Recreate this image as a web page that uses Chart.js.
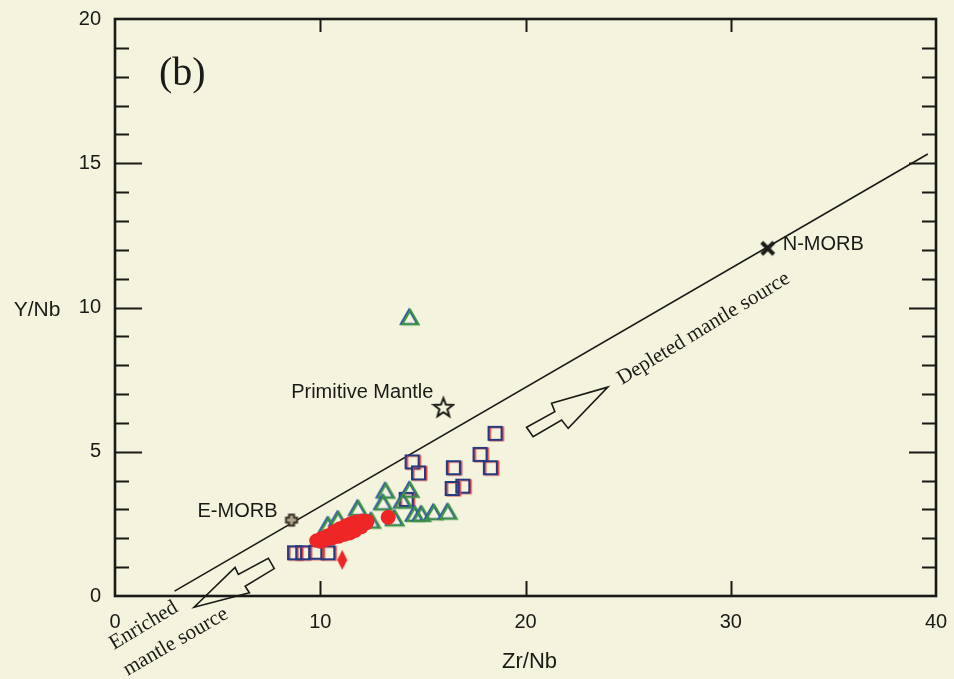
<!DOCTYPE html>
<html>
<head>
<meta charset="utf-8">
<script src="https://cdn.jsdelivr.net/npm/chart.js@4.4.1/dist/chart.umd.min.js"></script>
<style>
  html, body { margin: 0; padding: 0; background: #f4f3de; }
  #wrap { width: 954px; height: 679px; }
</style>
</head>
<body>
<div id="wrap"><canvas id="c" width="954" height="679"></canvas></div>
<script>
// ---- Zr/Nb vs Y/Nb data ----
// Open squares
const sqZrNb = [18.54, 17.81, 18.31, 16.51, 16.97, 16.45, 14.50, 14.81, 14.21, 8.77, 9.17, 9.82, 10.39];
const sqYNb  = [5.62, 4.89, 4.43, 4.43, 3.79, 3.71, 4.63, 4.25, 3.33, 1.48, 1.48, 1.50, 1.48];
// Open triangles
const triZrNb = [13.19, 14.37, 13.07, 14.04, 11.85, 14.61, 14.94, 15.54, 16.23, 13.64, 12.50, 10.88, 10.39, 14.37];
const triYNb  = [3.62, 3.65, 3.21, 3.27, 3.01, 2.81, 2.81, 2.87, 2.89, 2.66, 2.58, 2.63, 2.43, 9.63];
// Filled circles (main group)
const dotZrNb = [9.8, 10.0, 10.05, 10.3, 10.35, 10.6, 10.6, 10.65, 10.9, 10.9, 10.95, 11.2, 11.2, 11.25,
                 11.45, 11.45, 11.5, 11.7, 11.7, 11.75, 12.0, 12.0, 12.05, 12.25, 12.3, 10.45, 10.75, 11.05, 11.35, 11.6, 11.9];
const dotYNb  = [1.92, 1.88, 2.0, 1.95, 2.1, 2.0, 2.12, 2.24, 2.05, 2.2, 2.35, 2.12, 2.28, 2.45,
                 2.17, 2.35, 2.53, 2.25, 2.42, 2.58, 2.38, 2.52, 2.62, 2.52, 2.6, 2.02, 2.15, 2.3, 2.38, 2.48, 2.45];
// Single larger filled circle
const bigDotZrNb = [13.31];
const bigDotYNb  = [2.73];
// Filled diamond
const diaZrNb = [11.07];
const diaYNb  = [1.25];
// Reference compositions
const refNames = ['N-MORB', 'E-MORB', 'Primitive Mantle'];
const refZrNb  = [31.8, 8.6, 16.0];
const refYNb   = [12.05, 2.63, 6.55];
// Mantle array line
const lineZrNb = [2.9, 39.6];
const lineYNb  = [0.17, 15.32];
// Axis ticks
const xTicks = [0, 10, 20, 30, 40];
const yTicks = [0, 5, 10, 15, 20];

const pts = (xs, ys) => xs.map((x, i) => ({ x: x, y: ys[i] }));

// ---- Symbol images ----
function canvasOf(w, h, draw) {
  const c = document.createElement('canvas');
  c.width = w; c.height = h;
  draw(c.getContext('2d'), w, h);
  return c;
}
const squareImg = canvasOf(20, 20, (g) => {
  g.lineWidth = 2;
  g.strokeStyle = '#d94848';
  g.strokeRect(4.5, 3.5, 13, 13);
  g.strokeStyle = '#27397f';
  g.strokeRect(3, 3, 13, 13);
});
function triPath(g, cx, cy, r) {
  g.beginPath();
  for (let k = 0; k < 3; k++) {
    const a = -Math.PI / 2 + k * 2 * Math.PI / 3;
    const px = cx + r * Math.cos(a), py = cy + r * Math.sin(a);
    if (k === 0) g.moveTo(px, py); else g.lineTo(px, py);
  }
  g.closePath();
}
const triImg = canvasOf(24, 22, (g) => {
  g.lineWidth = 2;
  g.strokeStyle = '#2f55a8';
  triPath(g, 11, 12, 9.5);
  g.stroke();
  g.strokeStyle = '#3f9440';
  triPath(g, 12.5, 12.5, 9.5);
  g.stroke();
});
const diamondImg = canvasOf(12, 22, (g) => {
  g.fillStyle = '#ee2626';
  g.beginPath();
  g.moveTo(6, 1); g.lineTo(11, 11); g.lineTo(6, 21); g.lineTo(1, 11);
  g.closePath(); g.fill();
});
const starImg = canvasOf(24, 24, (g) => {
  g.beginPath();
  for (let k = 0; k < 10; k++) {
    const r = k % 2 === 0 ? 10 : 4.2;
    const a = -Math.PI / 2 + k * Math.PI / 5;
    const px = 12 + r * Math.cos(a), py = 13 + r * Math.sin(a);
    if (k === 0) g.moveTo(px, py); else g.lineTo(px, py);
  }
  g.closePath();
  g.fillStyle = '#f4f3de'; g.fill();
  g.lineWidth = 2; g.strokeStyle = '#1c1a16'; g.stroke();
});
const plusImg = canvasOf(18, 18, (g) => {
  const a = 5.5, b = 2.5, c = 9;
  g.beginPath();
  g.moveTo(c - b, c - a); g.lineTo(c + b, c - a); g.lineTo(c + b, c - b); g.lineTo(c + a, c - b);
  g.lineTo(c + a, c + b); g.lineTo(c + b, c + b); g.lineTo(c + b, c + a); g.lineTo(c - b, c + a);
  g.lineTo(c - b, c + b); g.lineTo(c - a, c + b); g.lineTo(c - a, c - b); g.lineTo(c - b, c - b);
  g.closePath();
  g.fillStyle = '#b3a58c'; g.fill();
  g.lineWidth = 2; g.strokeStyle = '#3a3026'; g.stroke();
});
const crossImg = canvasOf(18, 18, (g) => {
  g.lineWidth = 4; g.lineCap = 'butt'; g.strokeStyle = '#1e1c1a';
  g.beginPath();
  g.moveTo(3, 3); g.lineTo(15, 15);
  g.moveTo(15, 3); g.lineTo(3, 15);
  g.stroke();
});

// ---- Annotation shapes (in Zr/Nb, Y/Nb units) ----
const depletedArrow = [[24.01, 7.24], [21.27, 6.68], [21.43, 6.39], [20.05, 5.85], [20.37, 5.52], [21.76, 6.10], [22.08, 5.81]];
const enrichedArrow = [[3.85, -0.39], [5.85, 0.99], [6.01, 0.75], [7.47, 1.31], [7.76, 0.95], [6.34, 0.34], [6.55, 0.11]];

const INK = '#1c1a16';
const SANS = '"Liberation Sans", Arial, sans-serif';
const SERIF = '"Liberation Serif", "Times New Roman", serif';

const decor = {
  id: 'decor',
  afterDatasetsDraw(chart) {
    const { ctx, chartArea: a, scales: { x, y } } = chart;
    ctx.save();
    // inward tick marks
    ctx.strokeStyle = INK;
    ctx.lineWidth = 2;
    ctx.beginPath();
    for (let v = 1; v < 20; v++) {
      const py = Math.round(y.getPixelForValue(v)) + 0.5;
      const len = v % 5 === 0 ? 27 : 14;
      ctx.moveTo(a.left, py); ctx.lineTo(a.left + len, py);
      ctx.moveTo(a.right, py); ctx.lineTo(a.right - len, py);
    }
    xTicks.slice(1, -1).forEach(v => {
      const px = Math.round(x.getPixelForValue(v)) + 0.5;
      ctx.moveTo(px, a.bottom); ctx.lineTo(px, a.bottom - 15);
      ctx.moveTo(px, a.top); ctx.lineTo(px, a.top + 13);
    });
    ctx.stroke();
    // frame
    ctx.lineWidth = 2.6;
    ctx.strokeRect(a.left, a.top, a.right - a.left, a.bottom - a.top);

    // arrows
    const drawArrow = (poly) => {
      ctx.beginPath();
      poly.forEach((p, i) => {
        const px = x.getPixelForValue(p[0]), py = y.getPixelForValue(p[1]);
        if (i === 0) ctx.moveTo(px, py); else ctx.lineTo(px, py);
      });
      ctx.closePath();
      ctx.lineWidth = 1.6;
      ctx.strokeStyle = INK;
      ctx.stroke();
    };
    drawArrow(depletedArrow);
    drawArrow(enrichedArrow);

    ctx.fillStyle = INK;
    // reference labels
    const refOffsets = [[15, 2, 'left'], [-14, -3, 'right'], [-10, -9, 'right']];
    ctx.font = '20px ' + SANS;
    ctx.textBaseline = 'alphabetic';
    refNames.forEach((n, i) => {
      const px = x.getPixelForValue(refZrNb[i]), py = y.getPixelForValue(refYNb[i]);
      ctx.textAlign = refOffsets[i][2];
      ctx.fillText(n, px + refOffsets[i][0], py + refOffsets[i][1]);
    });

    // rotated source labels
    const rotText = (txt, vx, vy, deg, size) => {
      ctx.save();
      ctx.translate(x.getPixelForValue(vx), y.getPixelForValue(vy));
      ctx.rotate(-deg * Math.PI / 180);
      ctx.font = size + 'px ' + SERIF;
      ctx.textAlign = 'left';
      ctx.fillText(txt, 0, 0);
      ctx.restore();
    };
    rotText('Depleted mantle source', 24.7, 7.31, 31.5, 21);
    rotText('Enriched', -0.05, -1.87, 31, 21);
    rotText('mantle source', 0.62, -2.77, 30, 21);

    // panel letter
    ctx.font = '40px ' + SERIF;
    ctx.textAlign = 'left';
    ctx.fillText('(b)', a.left + 44, a.top + 66);

    // axis titles
    ctx.font = '21px ' + SANS;
    ctx.textAlign = 'center';
    ctx.textBaseline = 'middle';
    ctx.fillText('Y/Nb', 37, y.getPixelForValue(9.9));
    ctx.font = '22px ' + SANS;
    ctx.fillText('Zr/Nb', x.getPixelForValue(20.2), 662);
    ctx.restore();
  }
};

new Chart(document.getElementById('c'), {
  type: 'scatter',
  data: {
    datasets: [
      { type: 'line', data: pts(lineZrNb, lineYNb), borderColor: INK, borderWidth: 1.6,
        pointRadius: 0, fill: false, order: 5 },
      { data: pts(sqZrNb, sqYNb), pointStyle: squareImg, pointRadius: 9, order: 4 },
      { data: pts(triZrNb, triYNb), pointStyle: triImg, pointRadius: 10, order: 3 },
      { data: pts(dotZrNb, dotYNb), pointStyle: 'circle', pointRadius: 7, borderWidth: 0,
        backgroundColor: '#ee2626', order: 2 },
      { data: pts(bigDotZrNb, bigDotYNb), pointStyle: 'circle', pointRadius: 7.5, borderWidth: 0,
        backgroundColor: '#ee2626', order: 2 },
      { data: pts(diaZrNb, diaYNb), pointStyle: diamondImg, pointRadius: 8, order: 2 },
      { data: [{ x: refZrNb[0], y: refYNb[0] }], pointStyle: crossImg, pointRadius: 8, order: 1 },
      { data: [{ x: refZrNb[1], y: refYNb[1] }], pointStyle: plusImg, pointRadius: 8, order: 1 },
      { data: [{ x: refZrNb[2], y: refYNb[2] }], pointStyle: starImg, pointRadius: 10, order: 1 }
    ]
  },
  options: {
    responsive: false,
    animation: false,
    layout: { padding: { left: 0, top: 19, right: 18, bottom: 0 } },
    plugins: { legend: { display: false }, tooltip: { enabled: false } },
    scales: {
      x: {
        type: 'linear', min: 0, max: 40,
        afterBuildTicks: (s) => { s.ticks = xTicks.map(v => ({ value: v })); },
        afterFit: (s) => { s.height = 83; s.paddingLeft = 0; s.paddingRight = 0; },
        grid: { display: false, drawTicks: false },
        border: { display: false },
        ticks: { font: { family: SANS, size: 20 }, color: INK, padding: 14, maxRotation: 0 }
      },
      y: {
        type: 'linear', min: 0, max: 20,
        afterBuildTicks: (s) => { s.ticks = yTicks.map(v => ({ value: v })); },
        afterFit: (s) => { s.width = 115; s.paddingTop = 0; s.paddingBottom = 0; },
        grid: { display: false, drawTicks: false },
        border: { display: false },
        ticks: { font: { family: SANS, size: 20 }, color: INK, padding: 14 }
      }
    }
  },
  plugins: [decor]
});
</script>
</body>
</html>
